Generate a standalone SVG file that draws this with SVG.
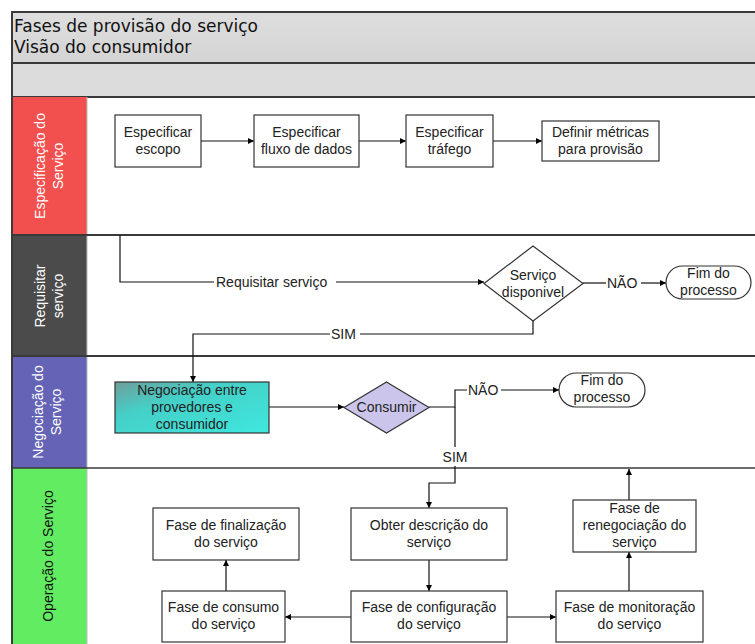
<svg xmlns="http://www.w3.org/2000/svg" width="755" height="644" viewBox="0 0 755 644">
  <defs>
    <marker id="arrow" viewBox="0 0 10 10" refX="10" refY="5" markerWidth="7" markerHeight="6" markerUnits="userSpaceOnUse" orient="auto">
      <path d="M0,0 L10,5 L0,10 z" fill="#000"/>
    </marker>
    <linearGradient id="cyanFill" x1="0" y1="0" x2="1" y2="1">
      <stop offset="0" stop-color="#6f9d9a"/>
      <stop offset="0.35" stop-color="#45cfc7"/>
      <stop offset="1" stop-color="#3ee8de"/>
    </linearGradient>
    <linearGradient id="bandFill" x1="0" y1="0" x2="0" y2="1">
      <stop offset="0" stop-color="#dedede"/>
      <stop offset="1" stop-color="#d4d4d4"/>
    </linearGradient>
  </defs>
  <style>
    .box { fill: #fff; stroke: #333; stroke-width: 1.2; }
    .t { font-family: "Liberation Sans", Arial, sans-serif; font-size: 14px; fill: #222; text-anchor: middle; }
    .lbl { font-family: "Liberation Sans", Arial, sans-serif; font-size: 14px; fill: #222; }
    .lane { font-family: "Liberation Sans", Arial, sans-serif; font-size: 14px; fill: #fff; text-anchor: middle; }
    .title { font-family: "DejaVu Sans", Verdana, sans-serif; font-size: 17px; fill: #111; }
    .conn { fill: none; stroke: #111; stroke-width: 1.2; }
    .sep { stroke: #3a3a3a; stroke-width: 2; }
  </style>

  <!-- page background -->
  <rect x="0" y="0" width="755" height="644" fill="#fff"/>

  <!-- header bands -->
  <g id="header">
    <rect x="12" y="12" width="760" height="51" fill="url(#bandFill)" stroke="#3a3a3a" stroke-width="2"/>
    <rect x="12" y="63" width="760" height="34" fill="#dcdcdc" stroke="#3a3a3a" stroke-width="2"/>
    <text class="title" x="14" y="32">Fases de provisão do serviço</text>
    <text class="title" x="14" y="53">Visão do consumidor</text>
  </g>

  <!-- swimlanes -->
  <g id="lanes">
    <rect x="12" y="97" width="75" height="138" fill="#f24f4f"/>
    <rect x="12" y="235" width="75" height="121" fill="#4b4b4b"/>
    <rect x="12" y="356" width="75" height="112" fill="#6463b6"/>
    <rect x="12" y="468" width="75" height="180" fill="#62ec62"/>
    <line x1="12" y1="97" x2="12" y2="644" stroke="#3a3a3a" stroke-width="2"/>
    <line x1="87" y1="97" x2="87" y2="644" stroke="#bbb" stroke-width="1"/>
    <line class="sep" x1="12" y1="235" x2="755" y2="235"/>
    <line class="sep" x1="12" y1="356" x2="755" y2="356"/>
    <line x1="12" y1="468" x2="755" y2="468" stroke="#3a3a3a" stroke-width="1.5"/>

    <text class="lane" transform="translate(49,166) rotate(-90)"><tspan x="0" y="-4">Especificação do</tspan><tspan x="0" y="14">Serviço</tspan></text>
    <text class="lane" transform="translate(49,296) rotate(-90)"><tspan x="0" y="-4">Requisitar</tspan><tspan x="0" y="14">serviço</tspan></text>
    <text class="lane" transform="translate(48,412) rotate(-90)"><tspan x="0" y="-5">Negociação do</tspan><tspan x="0" y="13">Serviço</tspan></text>
    <text class="lane" transform="translate(48,556) rotate(-90)" style="fill:#111"><tspan x="0" y="5">Operação do Serviço</tspan></text>
  </g>

  <!-- connectors -->
  <g id="connectors">
    <path class="conn" d="M201,141 H254" marker-end="url(#arrow)"/>
    <path class="conn" d="M359,141 H406" marker-end="url(#arrow)"/>
    <path class="conn" d="M493,141 H542" marker-end="url(#arrow)"/>

    <path class="conn" d="M120,235 V282 H214"/>
    <path class="conn" d="M336,282 H484" marker-end="url(#arrow)"/>
    <text class="lbl" x="216" y="287">Requisitar serviço</text>

    <path class="conn" d="M583,283 H606"/>
    <path class="conn" d="M641,283 H666" marker-end="url(#arrow)"/>
    <text class="lbl" x="607" y="288">NÃO</text>

    <path class="conn" d="M533,321 V334 H360"/>
    <path class="conn" d="M330,334 H193 V382" marker-end="url(#arrow)"/>
    <text class="lbl" x="331" y="339">SIM</text>

    <path class="conn" d="M269,407 H344" marker-end="url(#arrow)"/>

    <path class="conn" d="M429,407 H455 V390 H467"/>
    <path class="conn" d="M501,390 H559" marker-end="url(#arrow)"/>
    <text class="lbl" x="468" y="395">NÃO</text>

    <path class="conn" d="M455,407 V447"/>
    <text class="t" x="455" y="462">SIM</text>
    <path class="conn" d="M455,466 V483 H429 V508" marker-end="url(#arrow)"/>

    <path class="conn" d="M429,560 V591" marker-end="url(#arrow)"/>
    <path class="conn" d="M507,617 H556" marker-end="url(#arrow)"/>
    <path class="conn" d="M351,617 H285" marker-end="url(#arrow)"/>
    <path class="conn" d="M226,591 V560" marker-end="url(#arrow)"/>
    <path class="conn" d="M629,591 V552" marker-end="url(#arrow)"/>
    <path class="conn" d="M629,500 V469" marker-end="url(#arrow)"/>
  </g>

  <!-- lane 1: especificação -->
  <g id="especificar-escopo">
    <rect class="box" x="115" y="115" width="86" height="52"/>
    <text class="t" x="158" y="137">Especificar<tspan x="158" dy="17">escopo</tspan></text>
  </g>
  <g id="especificar-fluxo">
    <rect class="box" x="254" y="115" width="105" height="52"/>
    <text class="t" x="306.5" y="137">Especificar<tspan x="306.5" dy="17">fluxo de dados</tspan></text>
  </g>
  <g id="especificar-trafego">
    <rect class="box" x="406" y="115" width="87" height="52"/>
    <text class="t" x="449.5" y="137">Especificar<tspan x="449.5" dy="17">tráfego</tspan></text>
  </g>
  <g id="definir-metricas">
    <rect class="box" x="542" y="121" width="117" height="40"/>
    <text class="t" x="600.5" y="137">Definir métricas<tspan x="600.5" dy="17">para provisão</tspan></text>
  </g>

  <!-- lane 2: requisitar -->
  <g id="servico-disponivel">
    <polygon points="533,246 583,283.5 533,321 484,283.5" fill="#fff" stroke="#333" stroke-width="1.2"/>
    <text class="t" x="533" y="280">Serviço<tspan x="533" dy="17">disponivel</tspan></text>
  </g>
  <g id="fim-1">
    <rect class="box" x="666" y="266" width="85" height="33" rx="16.5" ry="16.5"/>
    <text class="t" x="708.5" y="278">Fim do<tspan x="708.5" dy="17">processo</tspan></text>
  </g>

  <!-- lane 3: negociação -->
  <g id="negociacao">
    <rect x="115" y="382" width="154" height="51" fill="url(#cyanFill)" stroke="#333" stroke-width="1.2"/>
    <text class="t" x="192" y="395">Negociação entre<tspan x="192" dy="17">provedores e</tspan><tspan x="192" dy="17">consumidor</tspan></text>
  </g>
  <g id="consumir">
    <polygon points="386.5,382 429,407.5 386.5,433 344,407.5" fill="#cbc5ec" stroke="#333" stroke-width="1.2"/>
    <text class="t" x="386.5" y="412">Consumir</text>
  </g>
  <g id="fim-2">
    <rect class="box" x="559" y="373" width="86" height="34" rx="17" ry="17"/>
    <text class="t" x="602" y="385">Fim do<tspan x="602" dy="17">processo</tspan></text>
  </g>

  <!-- lane 4: operação -->
  <g id="finalizacao">
    <rect class="box" x="153" y="508" width="146" height="52"/>
    <text class="t" x="226" y="530">Fase de finalização<tspan x="226" dy="17">do serviço</tspan></text>
  </g>
  <g id="obter-descricao">
    <rect class="box" x="351" y="508" width="156" height="52"/>
    <text class="t" x="429" y="530">Obter descrição do<tspan x="429" dy="17">serviço</tspan></text>
  </g>
  <g id="renegociacao">
    <rect class="box" x="573" y="500" width="123" height="52"/>
    <text class="t" x="634.5" y="513">Fase de<tspan x="634.5" dy="17">renegociação do</tspan><tspan x="634.5" dy="17">serviço</tspan></text>
  </g>
  <g id="consumo">
    <rect class="box" x="162" y="591" width="123" height="51"/>
    <text class="t" x="223.5" y="612">Fase de consumo<tspan x="223.5" dy="17">do serviço</tspan></text>
  </g>
  <g id="configuracao">
    <rect class="box" x="351" y="591" width="156" height="51"/>
    <text class="t" x="429" y="612">Fase de configuração<tspan x="429" dy="17">do serviço</tspan></text>
  </g>
  <g id="monitoracao">
    <rect class="box" x="556" y="591" width="147" height="51"/>
    <text class="t" x="629.5" y="612">Fase de monitoração<tspan x="629.5" dy="17">do serviço</tspan></text>
  </g>
</svg>
